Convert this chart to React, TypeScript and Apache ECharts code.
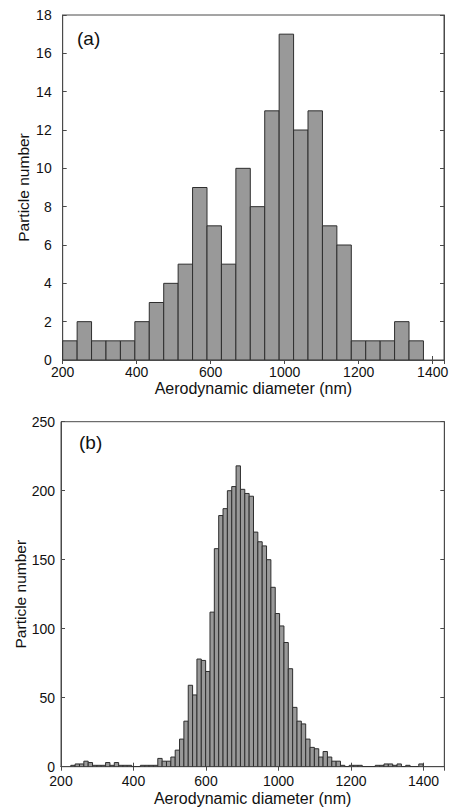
import React, { useEffect, useRef } from "react";
import * as echarts from "echarts";

// Tick labels as printed on the x axes (no "800" in the original figure)
const xTickLabels = ["200", "400", "600", "1000", "1200", "1400"];

// Panel (a): histogram counts, 25 bins
const countsA = [1, 2, 1, 1, 1, 2, 3, 4, 5, 9, 7, 5, 10, 8, 13, 17, 12, 13, 7, 6, 1, 1, 1, 2, 1];
const binStartA = 200;
const binWidthA = 39;

// Panel (b): histogram counts, 81 bins
const countsB = [
  1, 2, 2, 4, 3, 1, 1, 1, 3, 1,
  3, 1, 1, 1, 0, 0, 1, 1, 1, 1,
  6, 4, 4, 7, 12, 20, 33, 59, 52, 78,
  77, 69, 112, 158, 182, 187, 200, 203, 218, 201,
  198, 196, 170, 163, 160, 150, 130, 111, 102, 90,
  71, 43, 33, 31, 20, 14, 13, 7, 11, 7,
  4, 4, 1, 0, 1, 1, 1, 0, 0, 0,
  1, 1, 2, 2, 1, 2, 0, 1, 0, 0,
  2,
];
const binStartB = 227;
const binWidthB = 12;

const FONT = "'Liberation Sans', Arial, Helvetica, sans-serif";
const FRAME = "#4a4a4a";
const TEXT = "#111";
const BAR_FILL = "#999999";
const BAR_STROKE = "#2e2e2e";

function toBins(counts: number[], start: number, width: number) {
  return counts.map((c, i) => [start + i * width, start + (i + 1) * width, c]);
}

function labelFor(v: number) {
  const idx = (v - 200) / 200;
  if (Math.abs(idx - Math.round(idx)) > 1e-6) return "";
  return xTickLabels[Math.round(idx)] ?? "";
}

const renderBar = (params: any, api: any) => {
  const x0 = api.value(0);
  const x1 = api.value(1);
  const y = api.value(2);
  const p0 = api.coord([x0, y]);
  const p1 = api.coord([x1, 0]);
  return {
    type: "rect",
    shape: { x: p0[0], y: p0[1], width: p1[0] - p0[0], height: p1[1] - p0[1] },
    style: { fill: BAR_FILL, stroke: BAR_STROKE, lineWidth: 1 },
  };
};

export default function App() {
  const ref = useRef<HTMLDivElement>(null);

  useEffect(() => {
    if (!ref.current) return;
    const chart = echarts.init(ref.current, null, { renderer: "svg" });

    const lineStyle = { color: FRAME, width: 1 };
    const tickIn = { show: true, inside: true, length: 4, lineStyle };

    const xMain = (gridIndex: number, max: number, labelMargin: number, nameGap: number) => ({
      type: "value",
      gridIndex,
      min: 200,
      max,
      interval: 200,
      position: "bottom",
      axisLine: { show: true, lineStyle },
      axisTick: tickIn,
      splitLine: { show: false },
      axisLabel: {
        formatter: labelFor,
        color: TEXT,
        fontSize: 14,
        lineHeight: 12,
        fontFamily: FONT,
        margin: labelMargin,
        showMaxLabel: false,
      },
      name: "Aerodynamic diameter (nm)",
      nameLocation: "middle",
      nameGap,
      nameMoveOverlap: false,
      nameTextStyle: { color: TEXT, fontSize: 16, fontFamily: FONT },
    });
    const xMirror = (gridIndex: number, max: number) => ({
      type: "value",
      gridIndex,
      min: 200,
      max,
      interval: 200,
      position: "top",
      axisLine: { show: true, lineStyle },
      axisTick: tickIn,
      splitLine: { show: false },
      axisLabel: { show: false },
    });
    const yMain = (
      gridIndex: number,
      max: number,
      interval: number,
      labelMargin: number,
      nameGap: number,
      padBottom: number
    ) => ({
      type: "value",
      gridIndex,
      min: 0,
      max,
      interval,
      position: "left",
      axisLine: { show: true, lineStyle },
      axisTick: tickIn,
      splitLine: { show: false },
      axisLabel: {
        color: TEXT,
        fontSize: 14,
        lineHeight: 12,
        fontFamily: FONT,
        margin: labelMargin,
        padding: [0, 0, padBottom, 0],
      },
      name: "Particle number",
      nameLocation: "middle",
      nameGap,
      nameMoveOverlap: false,
      nameTextStyle: { color: TEXT, fontSize: 15.5, fontFamily: FONT },
    });
    const yMirror = (gridIndex: number, max: number, interval: number) => ({
      type: "value",
      gridIndex,
      min: 0,
      max,
      interval,
      position: "right",
      axisLine: { show: true, lineStyle },
      axisTick: tickIn,
      splitLine: { show: false },
      axisLabel: { show: false },
    });

    const maxA = 200 + ((444 - 62.7) / 74) * 200;
    const maxB = 200 + ((444.3 - 61) / 72.5) * 200;

    chart.setOption({
      animation: false,
      backgroundColor: "#fff",
      grid: [
        {
          left: 62.7,
          top: 15,
          width: 444 - 62.7,
          height: 345,
          show: true,
          borderColor: FRAME,
          borderWidth: 1,
          containLabel: false,
          outerBoundsMode: "none",
        },
        {
          left: 61,
          top: 421.7,
          width: 444.3 - 61,
          height: 345,
          show: true,
          borderColor: FRAME,
          borderWidth: 1,
          containLabel: false,
          outerBoundsMode: "none",
        },
      ],
      xAxis: [xMain(0, maxA, 6, 20), xMirror(0, maxA), xMain(1, maxB, 8, 24), xMirror(1, maxB)],
      yAxis: [
        yMain(0, 18, 2, 11, 31, 0),
        yMirror(0, 18, 2),
        yMain(1, 250, 50, 6, 33, 4),
        yMirror(1, 250, 50),
      ],
      graphic: [
        {
          type: "text",
          left: 77,
          top: 29,
          style: { text: "(a)", fontSize: 19, fontFamily: FONT, fill: TEXT },
        },
        {
          type: "text",
          left: 79,
          top: 433,
          style: { text: "(b)", fontSize: 19, fontFamily: FONT, fill: TEXT },
        },
      ],
      series: [
        {
          type: "custom",
          xAxisIndex: 0,
          yAxisIndex: 0,
          renderItem: renderBar,
          encode: { x: [0, 1], y: 2 },
          data: toBins(countsA, binStartA, binWidthA),
          clip: true,
        },
        {
          type: "custom",
          xAxisIndex: 2,
          yAxisIndex: 2,
          renderItem: renderBar,
          encode: { x: [0, 1], y: 2 },
          data: toBins(countsB, binStartB, binWidthB),
          clip: true,
        },
      ],
    });

    return () => chart.dispose();
  }, []);

  return (
    <div
      ref={ref}
      style={{ position: "absolute", left: 0, top: 0, width: 449, height: 811, background: "#fff" }}
    />
  );
}
